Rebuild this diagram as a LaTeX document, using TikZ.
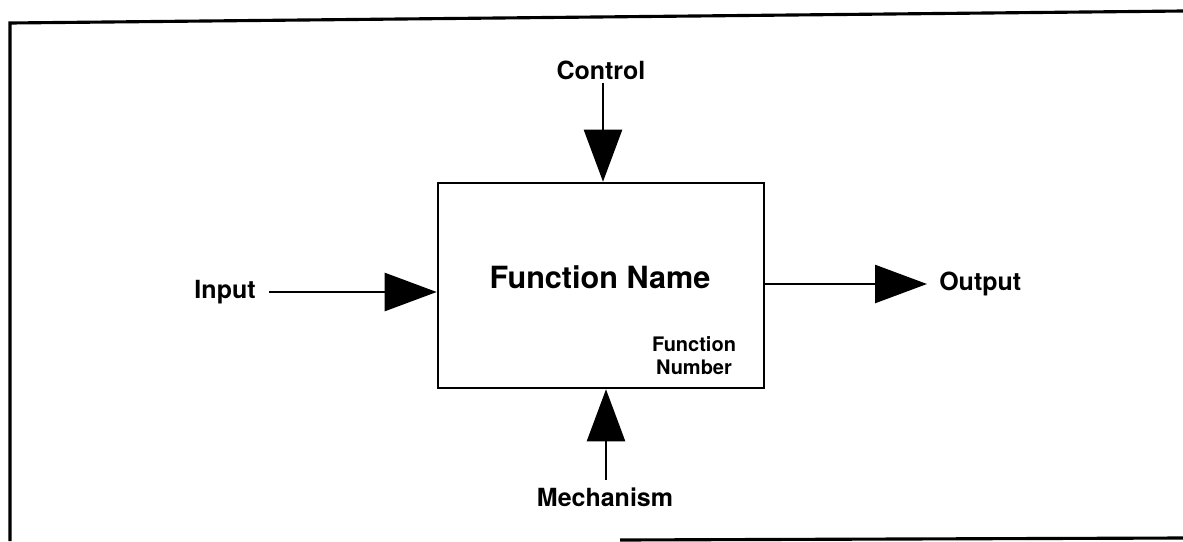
\documentclass[tikz,border=0pt]{standalone}
\usepackage{fontspec}
\setmainfont{TeX Gyre Heros}
\usetikzlibrary{positioning}
\usetikzlibrary{arrows.meta}
\usetikzlibrary{calc}

\tikzset{
  label/.style={font=\bfseries\fontsize{12.5}{14}\selectfont, inner sep=1pt},
  icom/.style={line width=0.45mm, -{Triangle[length=26pt,width=19pt]}},
}

\begin{document}
\begin{tikzpicture}[x=0.5pt,y=-0.5pt,line width=0.45mm]

  % page size
  \useasboundingbox (0,0) rectangle (1183,541);

  % frame round the figure
  \draw[line width=0.55mm] (10,541) -- (10,23) -- (1183,11);
  \draw[line width=0.55mm] (620,540) -- (1183,538);

  % the activity box
  \node[draw, minimum width=163pt, minimum height=102.5pt, inner sep=0pt] (fn) at (601,285.5) {};
  \node[font=\bfseries\fontsize{15.3}{18}\selectfont] (name) at (600,277) {Function Name};
  \node[font=\bfseries\fontsize{10}{11.5}\selectfont, align=center, inner sep=0pt] (number) at (694,356) {Function\\Number};

  % ICOM labels
  \node[label] (control) at (601,70) {Control};
  \node[label] (mechanism) at (605,497) {Mechanism};
  \node[label, anchor=east] (input) at (259,292) {Input};
  \node[label, anchor=west] (output) at (936,284) {Output};

  % arrows
  \coordinate (ctop) at (603,83);
  \coordinate (mbot) at (606,480);
  \draw[icom] (ctop) -- (ctop |- fn.north);
  \draw[icom] (mbot) -- (mbot |- fn.south);
  \draw[icom] ($(input.east)+(10,0)$) -- (input.east -| fn.west);
  \draw[icom] (fn.east |- output.west) -- ($(output.west)+(-9,0)$);

\end{tikzpicture}
\end{document}
